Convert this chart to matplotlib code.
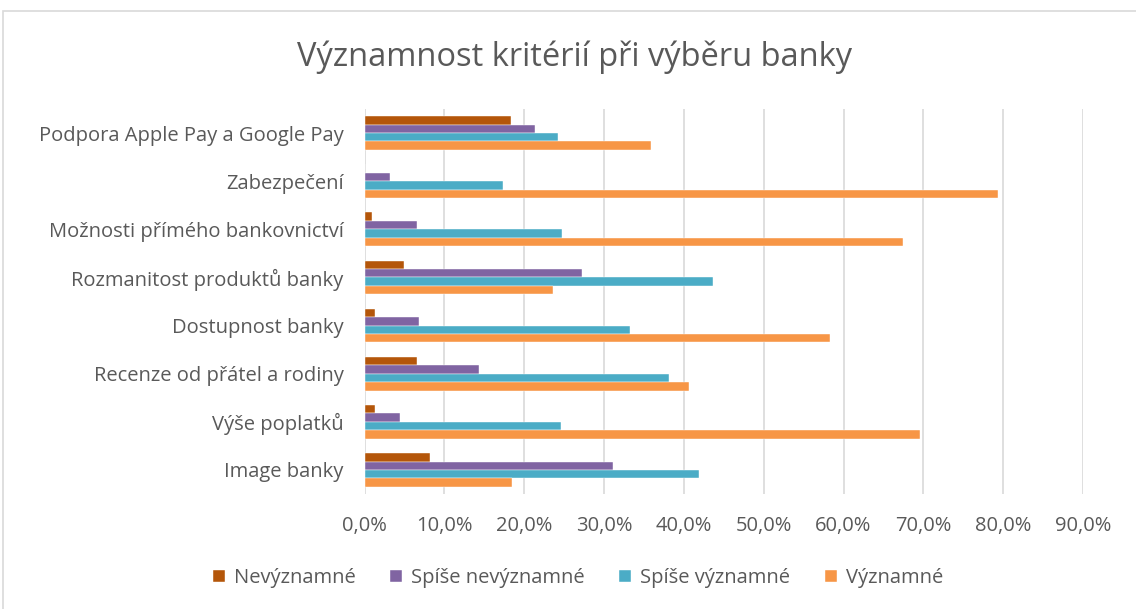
import numpy as np
import matplotlib
matplotlib.use("Agg")
import matplotlib.pyplot as plt
from matplotlib.patches import Rectangle
from matplotlib.ticker import FuncFormatter

categories = ["Image banky", "Výše poplatků", "Recenze od přátel a rodiny",
              "Dostupnost banky", "Rozmanitost produktů banky",
              "Možnosti přímého bankovnictví", "Zabezpečení",
              "Podpora Apple Pay a Google Pay"]
series_names = ["Nevýznamné", "Spíše nevýznamné", "Spíše významné", "Významné"]
nevyznamne = [0.082, 0.013, 0.066, 0.013, 0.049, 0.009, 0.0, 0.183]
spise_nevyznamne = [0.311, 0.044, 0.144, 0.068, 0.273, 0.066, 0.032, 0.214]
spise_vyznamne = [0.419, 0.246, 0.381, 0.333, 0.437, 0.248, 0.173, 0.242]
vyznamne = [0.185, 0.696, 0.406, 0.583, 0.236, 0.674, 0.794, 0.359]
colors = ["#B4560A", "#8064A2", "#4BACC6", "#F79646"]

plt.rcParams['font.family'] = ['Open Sans', 'DejaVu Sans']
text_col = "#595959"

fig = plt.figure(figsize=(11.36, 6.09), dpi=100)
# chart border
fig.patches.append(Rectangle((3 / 1136, -0.01), 1.2, 1 - 11 / 609 + 0.01,
                             transform=fig.transFigure, fill=False,
                             edgecolor="#D9D9D9", linewidth=1.2))

ax = fig.add_axes([364.5 / 1136, 1 - 494 / 609, (1083 - 364.5) / 1136, (494 - 109) / 609])

y = np.arange(len(categories))
h = 0.175
all_series = [nevyznamne, spise_nevyznamne, spise_vyznamne, vyznamne]
for i, (vals, name, col) in enumerate(zip(all_series, series_names, colors)):
    offset = (1.5 - i) * h
    ax.barh(y + offset, vals, height=h, color=col, label=name,
            edgecolor="white", linewidth=0.3)

ax.set_xlim(0, 0.9)
ax.set_ylim(-0.5, len(categories) - 0.5)
ax.set_xticks(np.arange(0, 0.91, 0.1))
ax.xaxis.set_major_formatter(FuncFormatter(lambda v, p: f"{v * 100:.1f}%".replace(".", ",")))
ax.set_yticks(y)
ax.set_yticklabels(categories)
ax.grid(axis="x", color="#D9D9D9", linewidth=1.2)
ax.set_axisbelow(True)
for s in ax.spines.values():
    s.set_visible(False)
ax.tick_params(axis="both", length=0, labelsize=14.5, colors=text_col)
ax.tick_params(axis="x", pad=16)
ax.tick_params(axis="y", pad=15)

fig.text(575 / 1136, 1 - 57 / 609, "Významnost kritérií při výběru banky",
         ha="center", va="center", fontsize=23.5, color=text_col)

handles, labels = ax.get_legend_handles_labels()
fig.legend(handles, labels, loc="center", bbox_to_anchor=(578 / 1136, 1 - 578 / 609),
           ncol=4, frameon=False, fontsize=14.5, labelcolor=text_col,
           handlelength=0.6, handleheight=0.6, columnspacing=1.7, handletextpad=0.45)

fig.savefig("out.png", dpi=100)
